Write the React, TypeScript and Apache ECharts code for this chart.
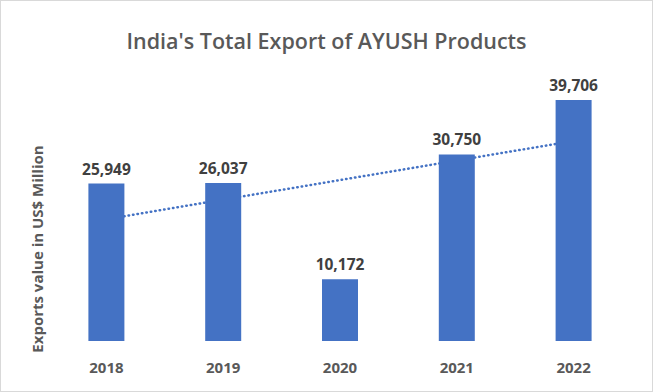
import React, { useEffect, useRef } from "react";
import * as echarts from "echarts";

const years = ["2018", "2019", "2020", "2021", "2022"];
const exportsValue = [25949, 26037, 10172, 30750, 39706];
const titleText = "India's Total Export of AYUSH Products";
const yAxisTitle = "Exports value in US$ Million";

// Linear trendline (least squares) derived from the series, like Excel's trendline
function linearTrend(values: number[]): number[] {
  const n = values.length;
  const xs = values.map((_, i) => i + 1);
  const mx = xs.reduce((a, b) => a + b, 0) / n;
  const my = values.reduce((a, b) => a + b, 0) / n;
  let num = 0;
  let den = 0;
  for (let i = 0; i < n; i++) {
    num += (xs[i] - mx) * (values[i] - my);
    den += (xs[i] - mx) * (xs[i] - mx);
  }
  const slope = num / den;
  return xs.map((x) => Math.round(my + slope * (x - mx)));
}

export default function App() {
  const ref = useRef<HTMLDivElement>(null);
  useEffect(() => {
    if (!ref.current) return;
    const chart = echarts.init(ref.current, undefined, { renderer: "svg" });
    const font = "'Open Sans', 'Noto Sans', sans-serif";
    chart.setOption({
      animation: false,
      backgroundColor: "#ffffff",
      title: {
        text: titleText,
        left: "center",
        top: 23,
        textStyle: { fontFamily: font, fontSize: 21.5, fontWeight: 600, color: "#595959" },
      },
      grid: { left: 47, right: 20, top: 67, bottom: 50 },
      xAxis: {
        type: "category",
        data: years,
        axisLine: { show: false },
        axisTick: { show: false },
        axisLabel: { margin: 18, fontFamily: font, fontSize: 15, fontWeight: "bold", color: "#595959" },
      },
      yAxis: {
        type: "value",
        min: 0,
        max: 45000,
        show: false,
        splitLine: { show: false },
      },
      graphic: [
        {
          type: "text",
          x: 36,
          y: 248,
          rotation: Math.PI / 2,
          style: {
            text: yAxisTitle,
            fontFamily: font,
            fontSize: 15,
            fontWeight: "bold",
            fill: "#595959",
            align: "center",
            verticalAlign: "middle",
          },
        },
      ],
      series: [
        {
          type: "line",
          data: linearTrend(exportsValue),
          symbol: "none",
          z: 1,
          lineStyle: { color: "#4472C4", width: 2.5, type: [0.5, 4], cap: "round" },
          silent: true,
        },
        {
          type: "bar",
          data: exportsValue,
          barWidth: 36,
          z: 3,
          itemStyle: { color: "#4472C4" },
          label: {
            show: true,
            position: "top",
            distance: 7,
            fontFamily: font,
            fontSize: 15.5,
            fontWeight: "bold",
            color: "#404040",
            formatter: (p: any) => Number(p.value).toLocaleString("en-US"),
          },
        },
      ],
    });
    return () => chart.dispose();
  }, []);
  return (
    <div
      style={{
        position: "fixed",
        left: 0,
        top: 0,
        width: 653,
        height: 392,
        boxSizing: "border-box",
        border: "1px solid #d9d9d9",
        background: "#fff",
      }}
    >
      <div ref={ref} style={{ width: 651, height: 390 }} />
    </div>
  );
}
